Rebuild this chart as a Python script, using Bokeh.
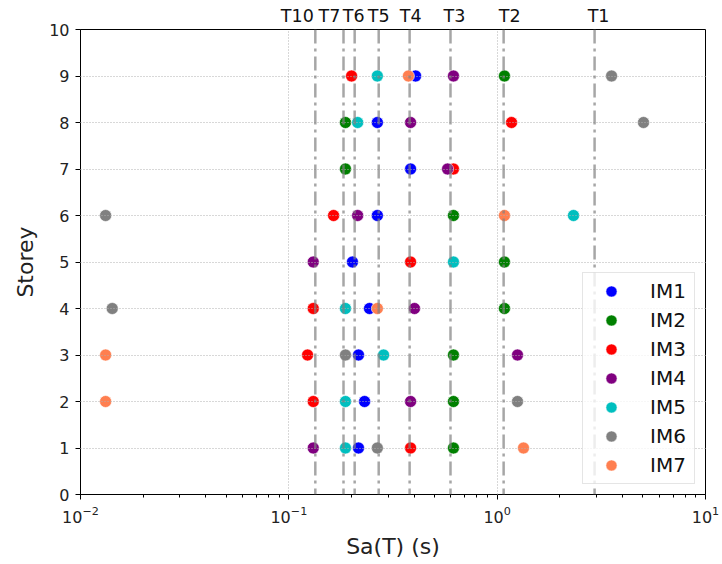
import math
from bokeh.plotting import figure
from bokeh.models import (FixedTicker, LogTickFormatter, Span, Legend, LegendItem,
                          LogAxis, CustomJSTickFormatter)
from bokeh.embed import file_html
from bokeh.resources import INLINE

nan = float("nan")

# ---------------- data ----------------
storeys = [1, 2, 3, 4, 5, 6, 7, 8, 9]

im1 = [0.216, 0.231, 0.216, 0.244, 0.202, 0.266, 0.384, 0.266, 0.406]
im2 = [0.617, 0.617, 0.617, 1.084, 1.084, 0.617, 0.187, 0.187, 1.084]
im3 = [0.384, 0.131, 0.123, 0.131, 0.384, 0.164, 0.617, 1.172, 0.200]
im4 = [0.131, 0.384, 1.252, 0.401, 0.131, 0.214, 0.578, 0.384, 0.617]
im5 = [0.187, 0.187, 0.285, 0.187, 0.617, 2.325, nan, 0.214, 0.266]
im6 = [0.266, 1.252, 0.187, 0.0142, nan, 0.0132, nan, 5.04, 3.54]
im7 = [1.338, 0.0132, 0.0132, 0.266, nan, 1.084, nan, nan, 0.375]

series_names = ["IM1", "IM2", "IM3", "IM4", "IM5", "IM6", "IM7"]
series_values = [im1, im2, im3, im4, im5, im6, im7]
series_colors = ["#0000ff", "#008000", "#ff0000", "#800080", "#00bfbf", "#808080", "#ff7f50"]

period_labels = ["T10", "T7", "T6", "T5", "T4", "T3", "T2", "T1"]
period_values = [0.134, 0.183, 0.207, 0.270, 0.380, 0.597, 1.074, 2.935]
period_label_dx = [-18, -14, -1, 0, 1, 4, 6, 4]   # screen-pixel nudges of the labels

x_major_ticks = [0.01, 0.1, 1, 10]
x_minor_ticks = [k * 10.0 ** d for d in (-2, -1, 0) for k in range(2, 10)]
y_ticks = list(range(0, 11))

FONT = "DejaVu Sans"
FRAME_W = 625
PX_PER_DECADE = FRAME_W / 3.0

p = figure(width=722, height=564, x_axis_type="log",
           x_range=(0.01, 10), y_range=(0, 10),
           output_backend="svg", toolbar_location=None,
           min_border_left=80, min_border_right=17,
           min_border_top=29, min_border_bottom=70)

p.outline_line_color = "black"
p.outline_line_width = 1
p.background_fill_color = "white"
p.border_fill_color = "white"

# axes
p.xaxis.ticker = FixedTicker(ticks=x_major_ticks, minor_ticks=x_minor_ticks)
p.xaxis.formatter = LogTickFormatter()
p.yaxis.ticker = FixedTicker(ticks=y_ticks)
p.xaxis.axis_label = "Sa(T) (s)"
p.yaxis.axis_label = "Storey"
for ax in (p.xaxis, p.yaxis):
    ax.axis_label_text_font = FONT
    ax.axis_label_text_font_size = "22px"
    ax.axis_label_text_font_style = "normal"
    ax.axis_label_text_color = "#222222"
    ax.major_label_text_font = FONT
    ax.major_label_text_font_size = "16px"
    ax.major_label_text_color = "#222222"
    ax.axis_line_color = "black"
    ax.major_tick_line_color = "black"
    ax.major_tick_out = 5
    ax.major_tick_in = 0
    ax.minor_tick_line_color = "black"
    ax.minor_tick_out = 3
    ax.minor_tick_in = 0
    ax.major_label_standoff = 6
    ax.axis_label_standoff = 8
p.yaxis.minor_tick_line_color = None

# grid
p.xgrid.ticker = FixedTicker(ticks=[0.1, 1])
p.ygrid.ticker = FixedTicker(ticks=y_ticks[1:-1])
for g in (p.xgrid, p.ygrid):
    g.grid_line_color = "#b0b0b0"
    g.grid_line_dash = "1 2"
    g.grid_line_width = 1
    g.level = "guide"

# period lines (drawn before the legend so the legend covers them)
for val in period_values:
    p.add_layout(Span(location=val, dimension="height", line_color="#808080",
                      line_alpha=0.7, line_width=2.5, line_dash="14 5 3 5"))

# period labels as a tick-less axis above the frame
label_pos = [v * 10 ** (dx / PX_PER_DECADE) for v, dx in zip(period_values, period_label_dx)]
top_axis = LogAxis(ticker=FixedTicker(ticks=label_pos, minor_ticks=[]),
                   formatter=CustomJSTickFormatter(args=dict(labels=period_labels),
                                                   code="return labels[index]"))
top_axis.axis_line_color = None
top_axis.major_tick_line_color = None
top_axis.minor_tick_line_color = None
top_axis.major_tick_out = 0
top_axis.major_tick_in = 0
top_axis.major_label_standoff = 4
top_axis.major_label_text_font = FONT
top_axis.major_label_text_font_size = "17.5px"
top_axis.major_label_text_color = "#111111"
p.add_layout(top_axis, "above")

# scatter points
items = []
for name, vals, col in zip(series_names, series_values, series_colors):
    r = p.scatter(x=vals, y=storeys, size=12, marker="circle",
                  fill_color=col, line_color="white", line_width=0.6)
    items.append(LegendItem(label=name, renderers=[r]))

legend = Legend(items=items, location="bottom_right", margin=10,
                padding=4, spacing=1, glyph_height=28, glyph_width=48,
                label_height=28, label_width=40, label_standoff=15,
                label_text_font=FONT, label_text_font_size="20px",
                label_text_color="#111111",
                border_line_color="#cccccc", border_line_width=1,
                background_fill_color="white", background_fill_alpha=0.8)
p.add_layout(legend, "center")

open("out.html", "w").write(file_html(p, INLINE))
